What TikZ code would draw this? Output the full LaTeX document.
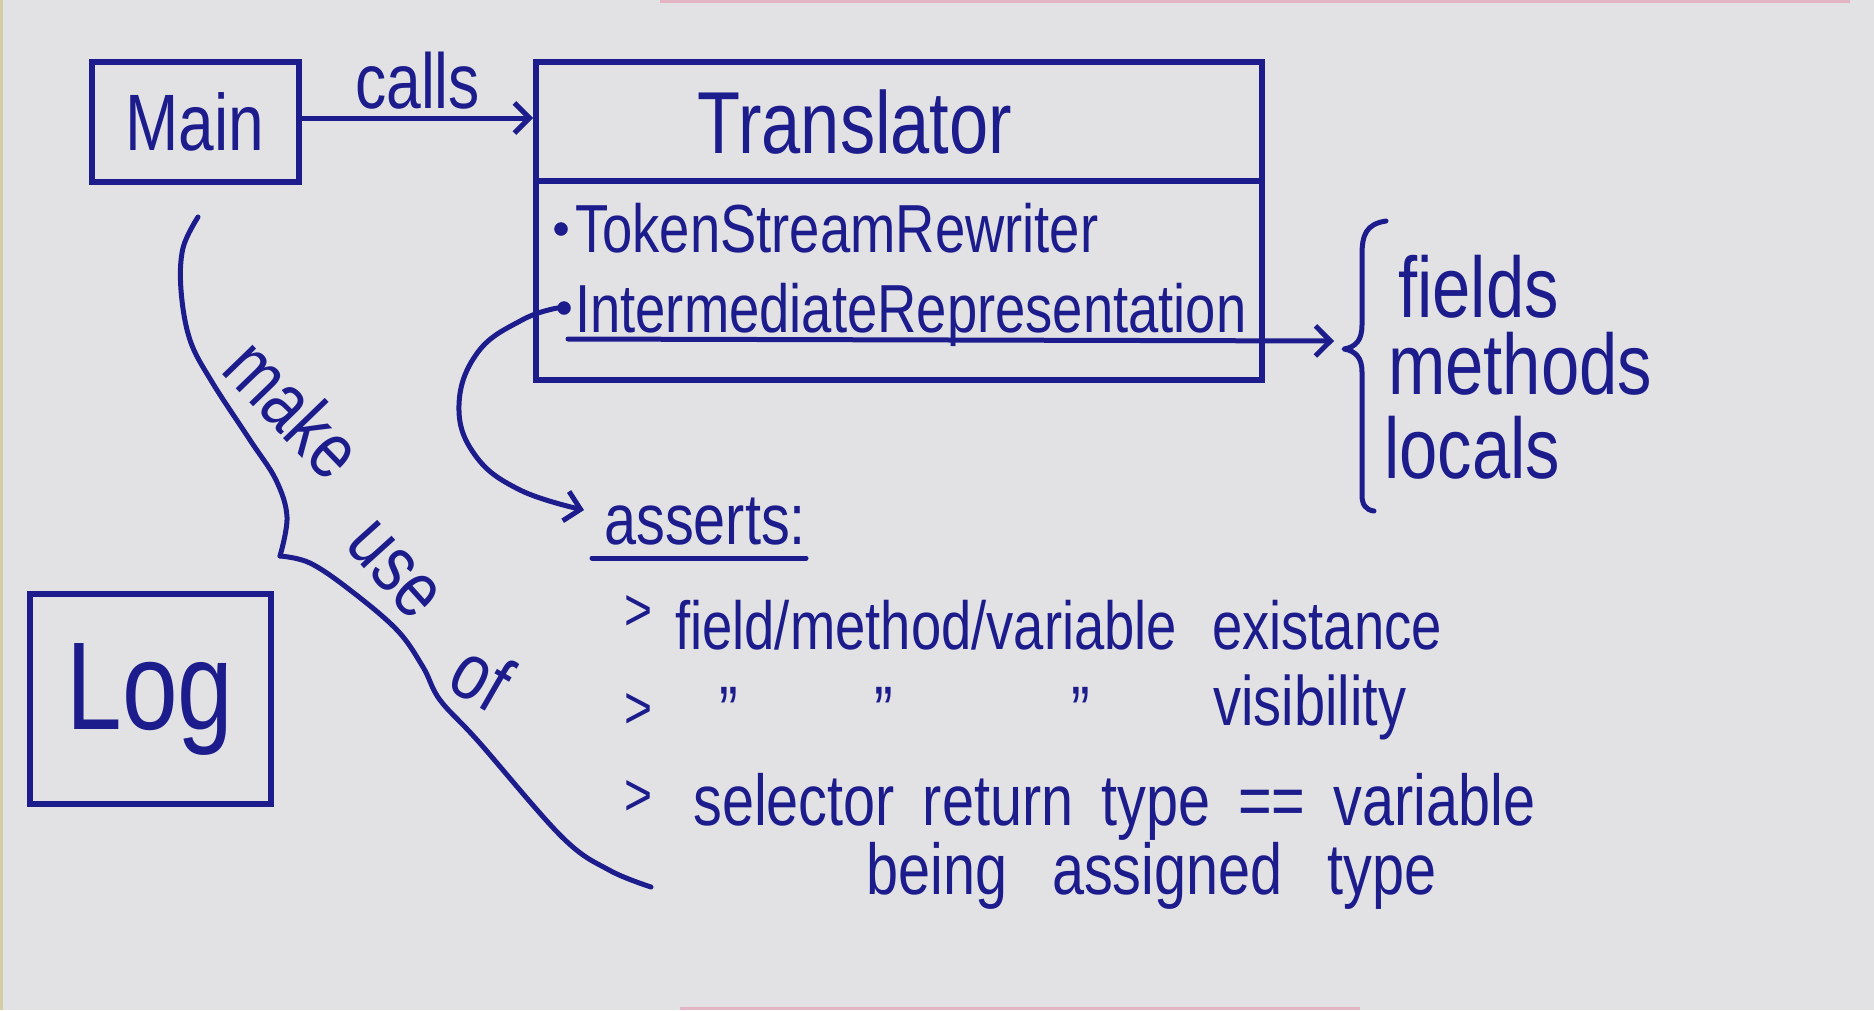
\documentclass[tikz,border=0pt]{standalone}
\usepackage{fontspec}
\newfontfamily\handfont[FakeStretch=0.8]{Liberation Sans}
\usetikzlibrary{arrows.meta}
\definecolor{ink}{RGB}{28,28,140}
\definecolor{paper}{RGB}{226,226,229}
\definecolor{pinkedge}{RGB}{228,150,170}
\definecolor{yedge}{RGB}{200,190,120}
\newcommand\hfs[1]{\handfont\fontsize{#1}{#1}\selectfont}
\begin{document}
\begin{tikzpicture}[x=1pt,y=-1pt,
  box/.style={draw=ink, line width=6pt, inner sep=0pt},
  txt/.style={text=ink, inner sep=0pt},
  wire/.style={draw=ink, line width=5pt, line cap=round, line join=round},
  barb/.style={-{Straight Barb[length=15pt,width=30pt]}},
  dot/.style={circle, draw=ink, fill=ink, minimum size=13pt, inner sep=0pt},
]
\fill[paper] (0,0) rectangle (1874,1010);
\useasboundingbox (0,0) rectangle (1874,1010);
% photo edges
\fill[pinkedge!60!paper] (660,0) rectangle (1850,3);
\fill[pinkedge!60!paper] (680,1007) rectangle (1360,1010);
\fill[yedge!60!paper] (0,0) rectangle (3,1010);

% Main
\node[box, minimum width=207pt, minimum height=120pt, text=ink, font=\hfs{80}] (main) at (195,122) {Main};

% Translator
\node[box, minimum width=726pt, minimum height=318pt] (tr) at (899,221) {};
\coordinate (divy) at (0,181);
\draw[ink, line width=6pt] (tr.west |- divy) -- (tr.east |- divy);
\node[txt, font=\hfs{88}] (trtitle) at (855,122) {Translator};
\node[dot] (tsdot) at (561,229) {};
\node[txt, font=\hfs{68}, anchor=base west] (ts) at (575,252) {TokenStreamRewriter};
\node[dot] (irdot) at (564,308) {};
\node[txt, font=\hfs{68}, anchor=base west] (ir) at (575,332) {IntermediateRepresentation};

% calls
\draw[wire, barb] ([yshift=4pt]main.east) -- ([yshift=4pt]main.east -| tr.west);
\node[txt, font=\hfs{78}, anchor=base west] (calls) at (355,108) {calls};

% IR underline arrow to brace
\coordinate (irline) at (568,339);
\coordinate (brtip) at (1334,341);
\draw[wire, barb] (irline) -- (brtip);

% brace
\draw[wire] (1386,221) .. controls (1366,224) and (1362,235) .. (1362,255) -- (1362,325)
  .. controls (1362,340) and (1356,347) .. (1344,349)
  .. controls (1356,351) and (1362,358) .. (1362,372) -- (1362,495)
  .. controls (1362,505) and (1366,510) .. (1374,511);
\node[txt, font=\hfs{86}, anchor=base west] (fields) at (1398,317) {fields};
\node[txt, font=\hfs{86}, anchor=base west] (methods) at (1388,394) {methods};
\node[txt, font=\hfs{86}, anchor=base west] (locals) at (1384,478) {locals};

% asserts
\node[txt, font=\hfs{72}, anchor=base west] (asserts) at (604,544) {asserts:};
\draw[wire] ([shift={(-12pt,-14pt)}]asserts.base west) -- ([shift={(0pt,-14pt)}]asserts.base east);
\draw[wire, barb] plot[smooth, tension=0.7] coordinates {(irdot.west) (522,320) (478,352) (459,405) (475,455) (520,490) ([xshift=-20pt,yshift=11pt]asserts.west)};

\node[txt, font=\hfs{60}] (g1) at (639,613) {>};
\node[txt, font=\hfs{60}] (g2) at (639,711) {>};
\node[txt, font=\hfs{60}] (g3) at (639,798) {>};
\node[txt, font={\hfs{68}\spaceskip=35pt}, anchor=base west] (l1) at (675,649) {field/method/variable existance};
\node[txt, font=\hfs{70}] (q1) at (729,711) {”};
\node[txt, font=\hfs{70}] (q2) at (884,711) {”};
\node[txt, font=\hfs{70}] (q3) at (1081,711) {”};
\node[txt, font=\hfs{70}, anchor=base west] (vis) at (1213,725) {visibility};
\node[txt, font={\hfs{72}\spaceskip=28pt}, anchor=base west] (l3) at (693,825) {selector return type == variable};
\node[txt, font={\hfs{72}\spaceskip=45pt}, anchor=base west] (l4) at (866,894) {being assigned type};

% Log
\node[box, minimum width=241pt, minimum height=210pt, text=ink, font=\hfs{125}] (log) at (150,699) {Log};

% make use of
\coordinate (mustart) at (198,217);
\coordinate (mucorner) at (280,556);
\coordinate (muend) at (651,887);
\draw[wire] plot[smooth, tension=0.6] coordinates {(mustart) (183,248) (181,290) (190,340) (212,382) (250,440) (276,480) (287,517) (mucorner)};
\draw[wire] plot[smooth, tension=0.6] coordinates {(mucorner) (310,563) (350,590) (397,630) (423,667) (440,700) (478,741) (562,837) (609,870) (muend)};
\node[txt, font=\hfs{80}, rotate=-46] (mk) at (294,408) {make};
\node[txt, font=\hfs{80}, rotate=-48] (use) at (394,570) {use};
\node[txt, font=\hfs{80}, rotate=-30] (of) at (482,676) {of};
\end{tikzpicture}
\end{document}
